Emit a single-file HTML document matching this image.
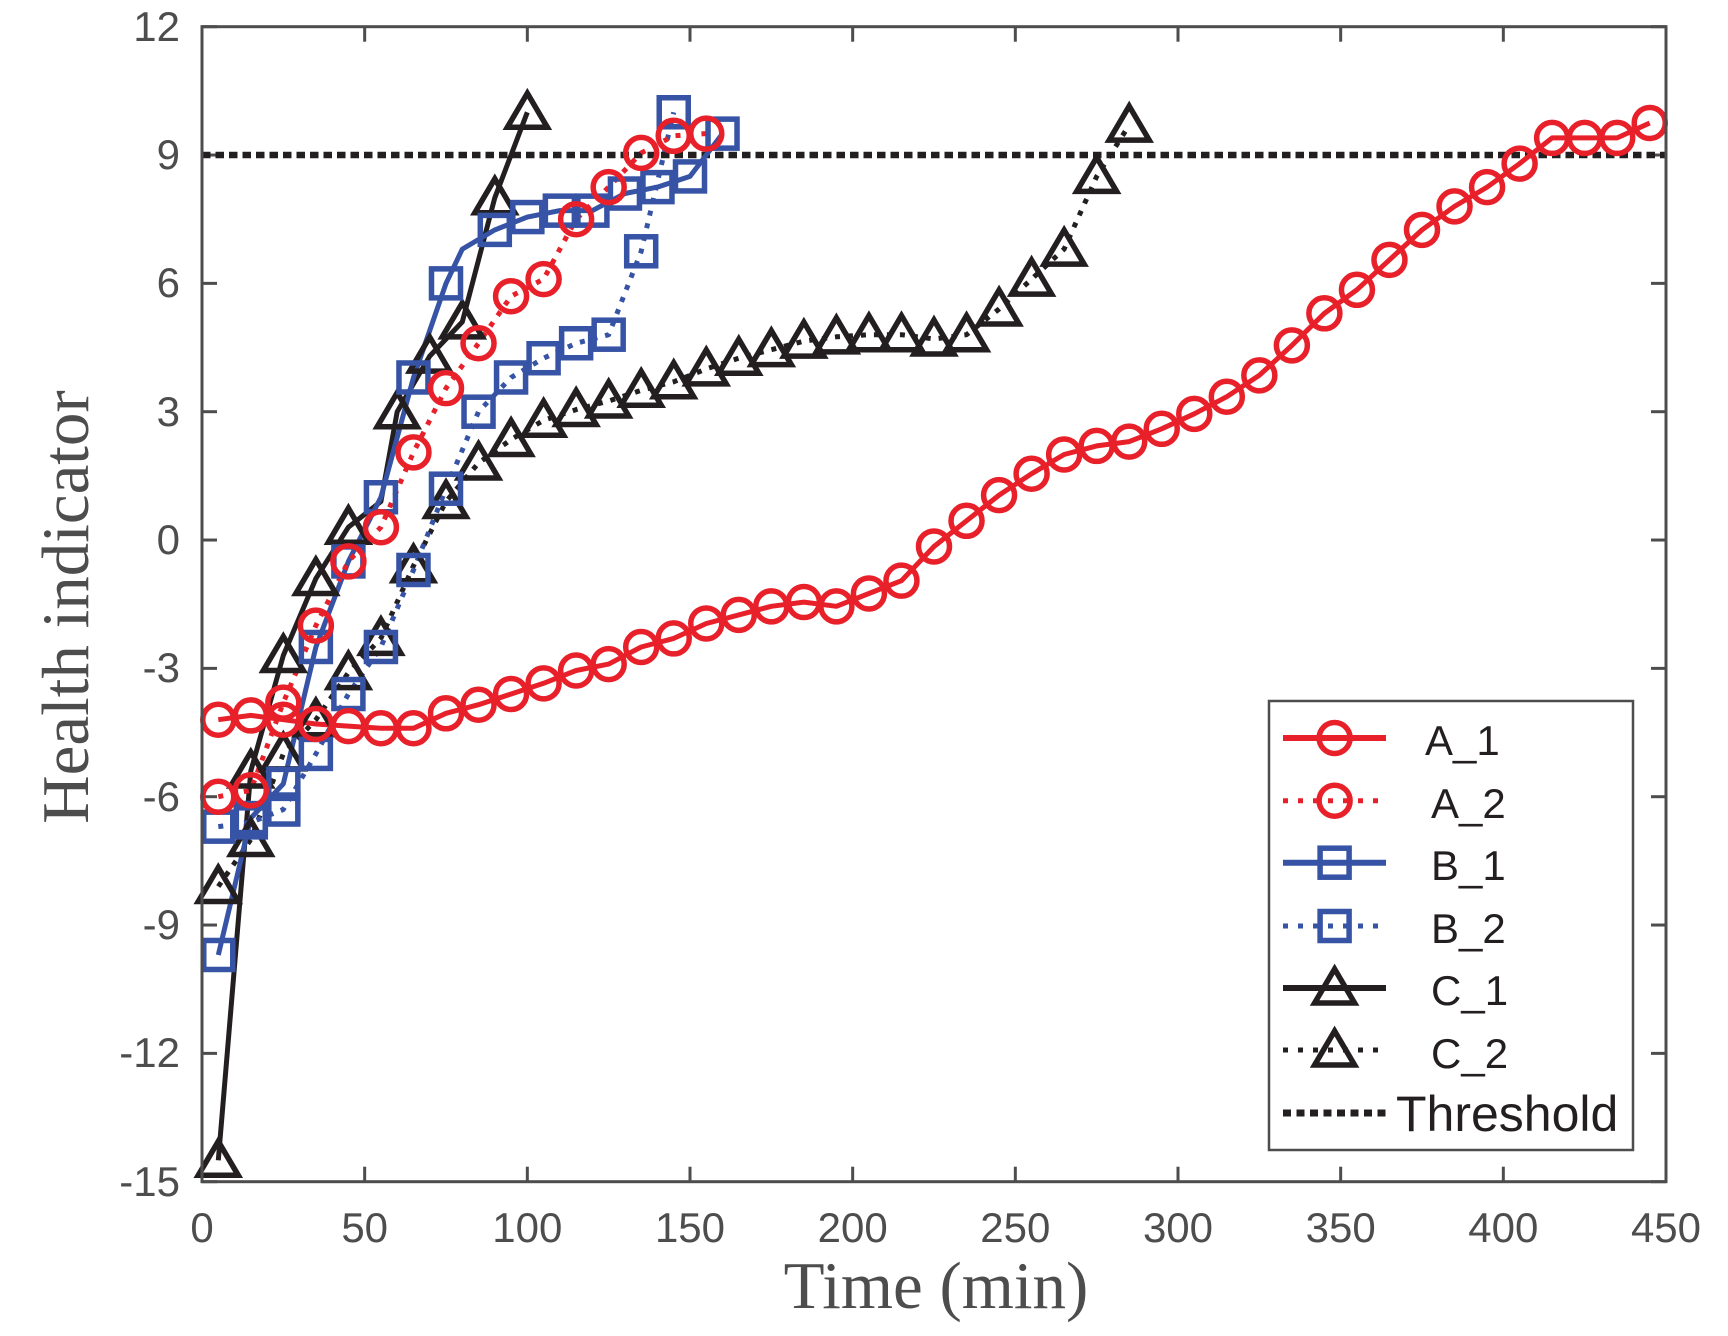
<!DOCTYPE html>
<html><head><meta charset="utf-8"><style>
html,body{margin:0;padding:0;background:#fff;}
svg{display:block;}
.tk{font-family:"Liberation Sans",Arial,sans-serif;font-size:42px;fill:#4d4d4d;}
.lg{font-family:"Liberation Sans",Arial,sans-serif;font-size:42px;fill:#231f20;}
.ttl{font-family:"Liberation Serif","DejaVu Serif",serif;font-size:67px;fill:#4d4d4d;}
</style></head><body>
<svg id="s" width="1728" height="1336" viewBox="0 0 1728 1336" xmlns="http://www.w3.org/2000/svg">
<rect width="1728" height="1336" fill="#fff"/>
<g id="ticks" stroke="#4d4d4d" stroke-width="3"></g>
<g id="data"></g>
<rect x="202" y="26.7" width="1464" height="1155" fill="none" stroke="#4d4d4d" stroke-width="3"/>
<g id="labels">
<text class="tk" x="180" y="41" text-anchor="end">12</text>
<text class="tk" x="180" y="169" text-anchor="end">9</text>
<text class="tk" x="180" y="297" text-anchor="end">6</text>
<text class="tk" x="180" y="426" text-anchor="end">3</text>
<text class="tk" x="180" y="554" text-anchor="end">0</text>
<text class="tk" x="180" y="682" text-anchor="end">-3</text>
<text class="tk" x="180" y="811" text-anchor="end">-6</text>
<text class="tk" x="180" y="939" text-anchor="end">-9</text>
<text class="tk" x="180" y="1067" text-anchor="end">-12</text>
<text class="tk" x="180" y="1196" text-anchor="end">-15</text>
<text class="tk" x="202" y="1242" text-anchor="middle">0</text>
<text class="tk" x="364.7" y="1242" text-anchor="middle">50</text>
<text class="tk" x="527.3" y="1242" text-anchor="middle">100</text>
<text class="tk" x="690" y="1242" text-anchor="middle">150</text>
<text class="tk" x="852.7" y="1242" text-anchor="middle">200</text>
<text class="tk" x="1015.3" y="1242" text-anchor="middle">250</text>
<text class="tk" x="1178" y="1242" text-anchor="middle">300</text>
<text class="tk" x="1340.7" y="1242" text-anchor="middle">350</text>
<text class="tk" x="1503.3" y="1242" text-anchor="middle">400</text>
<text class="tk" x="1666" y="1242" text-anchor="middle">450</text>
<text class="ttl" x="936" y="1308" text-anchor="middle">Time (min)</text>
<text class="ttl" transform="translate(88,607) rotate(-90)" text-anchor="middle">Health indicator</text>
</g>
<g id="legend">
<rect x="1269" y="701" width="364" height="449" fill="#fff" stroke="#4d4d4d" stroke-width="2.5"/>
<text class="lg" x="1425" y="755">A_1</text>
<text class="lg" x="1431" y="818">A_2</text>
<text class="lg" x="1431" y="880">B_1</text>
<text class="lg" x="1431" y="943">B_2</text>
<text class="lg" x="1431" y="1005">C_1</text>
<text class="lg" x="1431" y="1068">C_2</text>
<text class="lg" x="1396" y="1131" style="font-size:50px">Threshold</text>
</g>
</svg>
<script>
var NS="http://www.w3.org/2000/svg";
function X(t){return 202+t*3.25333;}
function Y(v){return 26.7+(12-v)*42.7778;}
function el(p,tag,a){var e=document.createElementNS(NS,tag);for(var k in a)e.setAttribute(k,a[k]);p.appendChild(e);return e;}
var tg=document.getElementById('ticks');
for(var v=-15;v<=12;v+=3){var y=Y(v);el(tg,'line',{x1:202,y1:y,x2:217,y2:y});el(tg,'line',{x1:1651,y1:y,x2:1666,y2:y});}
for(var t=0;t<=450;t+=50){var x=X(t);el(tg,'line',{x1:x,y1:1181.7,x2:x,y2:1166.7});el(tg,'line',{x1:x,y1:26.7,x2:x,y2:41.7});}
var R='#e8202a',B='#3653a5',K='#231f20';
function seq(s,vals){return vals.map(function(v,i){return [s+10*i,v];});}
var A1=seq(5,[-4.2,-4.1,-4.2,-4.3,-4.35,-4.4,-4.4,-4.05,-3.85,-3.6,-3.35,-3.05,-2.9,-2.5,-2.3,-1.95,-1.75,-1.55,-1.45,-1.55,-1.25,-0.95,-0.15,0.45,1.05,1.55,2.0,2.2,2.3,2.6,2.95,3.35,3.85,4.55,5.3,5.85,6.55,7.25,7.8,8.25,8.8,9.4,9.4,9.4,9.75]);
var A2=seq(5,[-6.0,-5.85,-3.8,-2.0,-0.5,0.3,2.05,3.55,4.6,5.7,6.1,7.5,8.25,9.05,9.45,9.5]);
var B1=[[5,-9.7],[15,-6.5],[25,-5.7],[35,-2.5],[45,-0.5],[55,1.0],[65,3.8],[75,6.0],[80,6.8],[90,7.25],[100,7.55],[110,7.7],[120,7.7],[130,8.1],[140,8.25],[150,8.5],[160,9.5]];
var B1m=[0,1,2,3,4,5,6,7,9,10,11,12,13,14,15,16];
var B2=seq(5,[-6.7,-6.6,-6.3,-5.0,-3.6,-2.5,-0.7,1.2,3.0,3.8,4.25,4.6,4.8,6.75,10.0]);
var C1=[[5,-14.5],[15,-5.4],[25,-2.7],[35,-0.9],[45,0.3],[55,0.9],[60,3.0],[70,4.3],[80,5.1],[90,8.0],[100,10.0]];
var C1m=[0,1,2,3,4,6,7,8,9,10];
var C2=seq(5,[-8.1,-7.0,-5.0,-4.2,-3.1,-2.3,-0.6,0.9,1.8,2.35,2.8,3.05,3.25,3.5,3.7,4.0,4.25,4.45,4.65,4.75,4.8,4.8,4.7,4.8,5.4,6.1,6.8,8.5,9.7]);
var dg=document.getElementById('data');
function line(pts,col,dotted){var d=pts.map(function(p,i){return (i?'L':'M')+X(p[0]).toFixed(1)+' '+Y(p[1]).toFixed(1);}).join(' ');
 var a={d:d,fill:'none',stroke:col,'stroke-width':5,'stroke-linejoin':'round'};if(dotted){a['stroke-dasharray']='5 8';}el(dg,'path',a);}
function mk(g,x,y,type,col){
 if(type=='o')el(g,'circle',{cx:x,cy:y,r:15.5,fill:'none',stroke:col,'stroke-width':5.5});
 else if(type=='s')el(g,'rect',{x:x-14.5,y:y-14.5,width:29,height:29,fill:'none',stroke:col,'stroke-width':5.5});
 else el(g,'path',{d:'M'+x+' '+(y-19)+' L'+(x+20)+' '+(y+15)+' L'+(x-20)+' '+(y+15)+' Z',fill:'none',stroke:col,'stroke-width':5.5,'stroke-linejoin':'miter'});}
function marks(pts,type,col,idx){pts.forEach(function(p,i){if(idx&&idx.indexOf(i)<0)return;mk(dg,X(p[0]),Y(p[1]),type,col);});}
el(dg,'line',{x1:202,y1:Y(9),x2:1666,y2:Y(9),stroke:K,'stroke-width':6.5,'stroke-dasharray':'8.5 5'});
line(C2,K,true);line(C1,K,false);
line(B2,B,true);line(B1,B,false);
line(A2,R,true);line(A1,R,false);
marks(C2,'t',K);marks(C1,'t',K,C1m);
marks(B2,'s',B);marks(B1,'s',B,B1m);
marks(A2,'o',R);marks(A1,'o',R);
var lg=document.getElementById('legend');
var rows=[[738,R,0,'o'],[800.7,R,1,'o'],[862.7,B,0,'s'],[926,B,1,'s'],[988,K,0,'t'],[1050,K,1,'t']];
rows.forEach(function(r){var a={x1:1283,y1:r[0],x2:1386,y2:r[0],stroke:r[1],'stroke-width':r[2]?5:6};if(r[2])a['stroke-dasharray']='5 10';el(lg,'line',a);mk(lg,1334.6,r[0],r[3],r[1]);});
el(lg,'line',{x1:1283,y1:1113,x2:1386,y2:1113,stroke:K,'stroke-width':7,'stroke-dasharray':'8 5.5'});
</script>
</body></html>
